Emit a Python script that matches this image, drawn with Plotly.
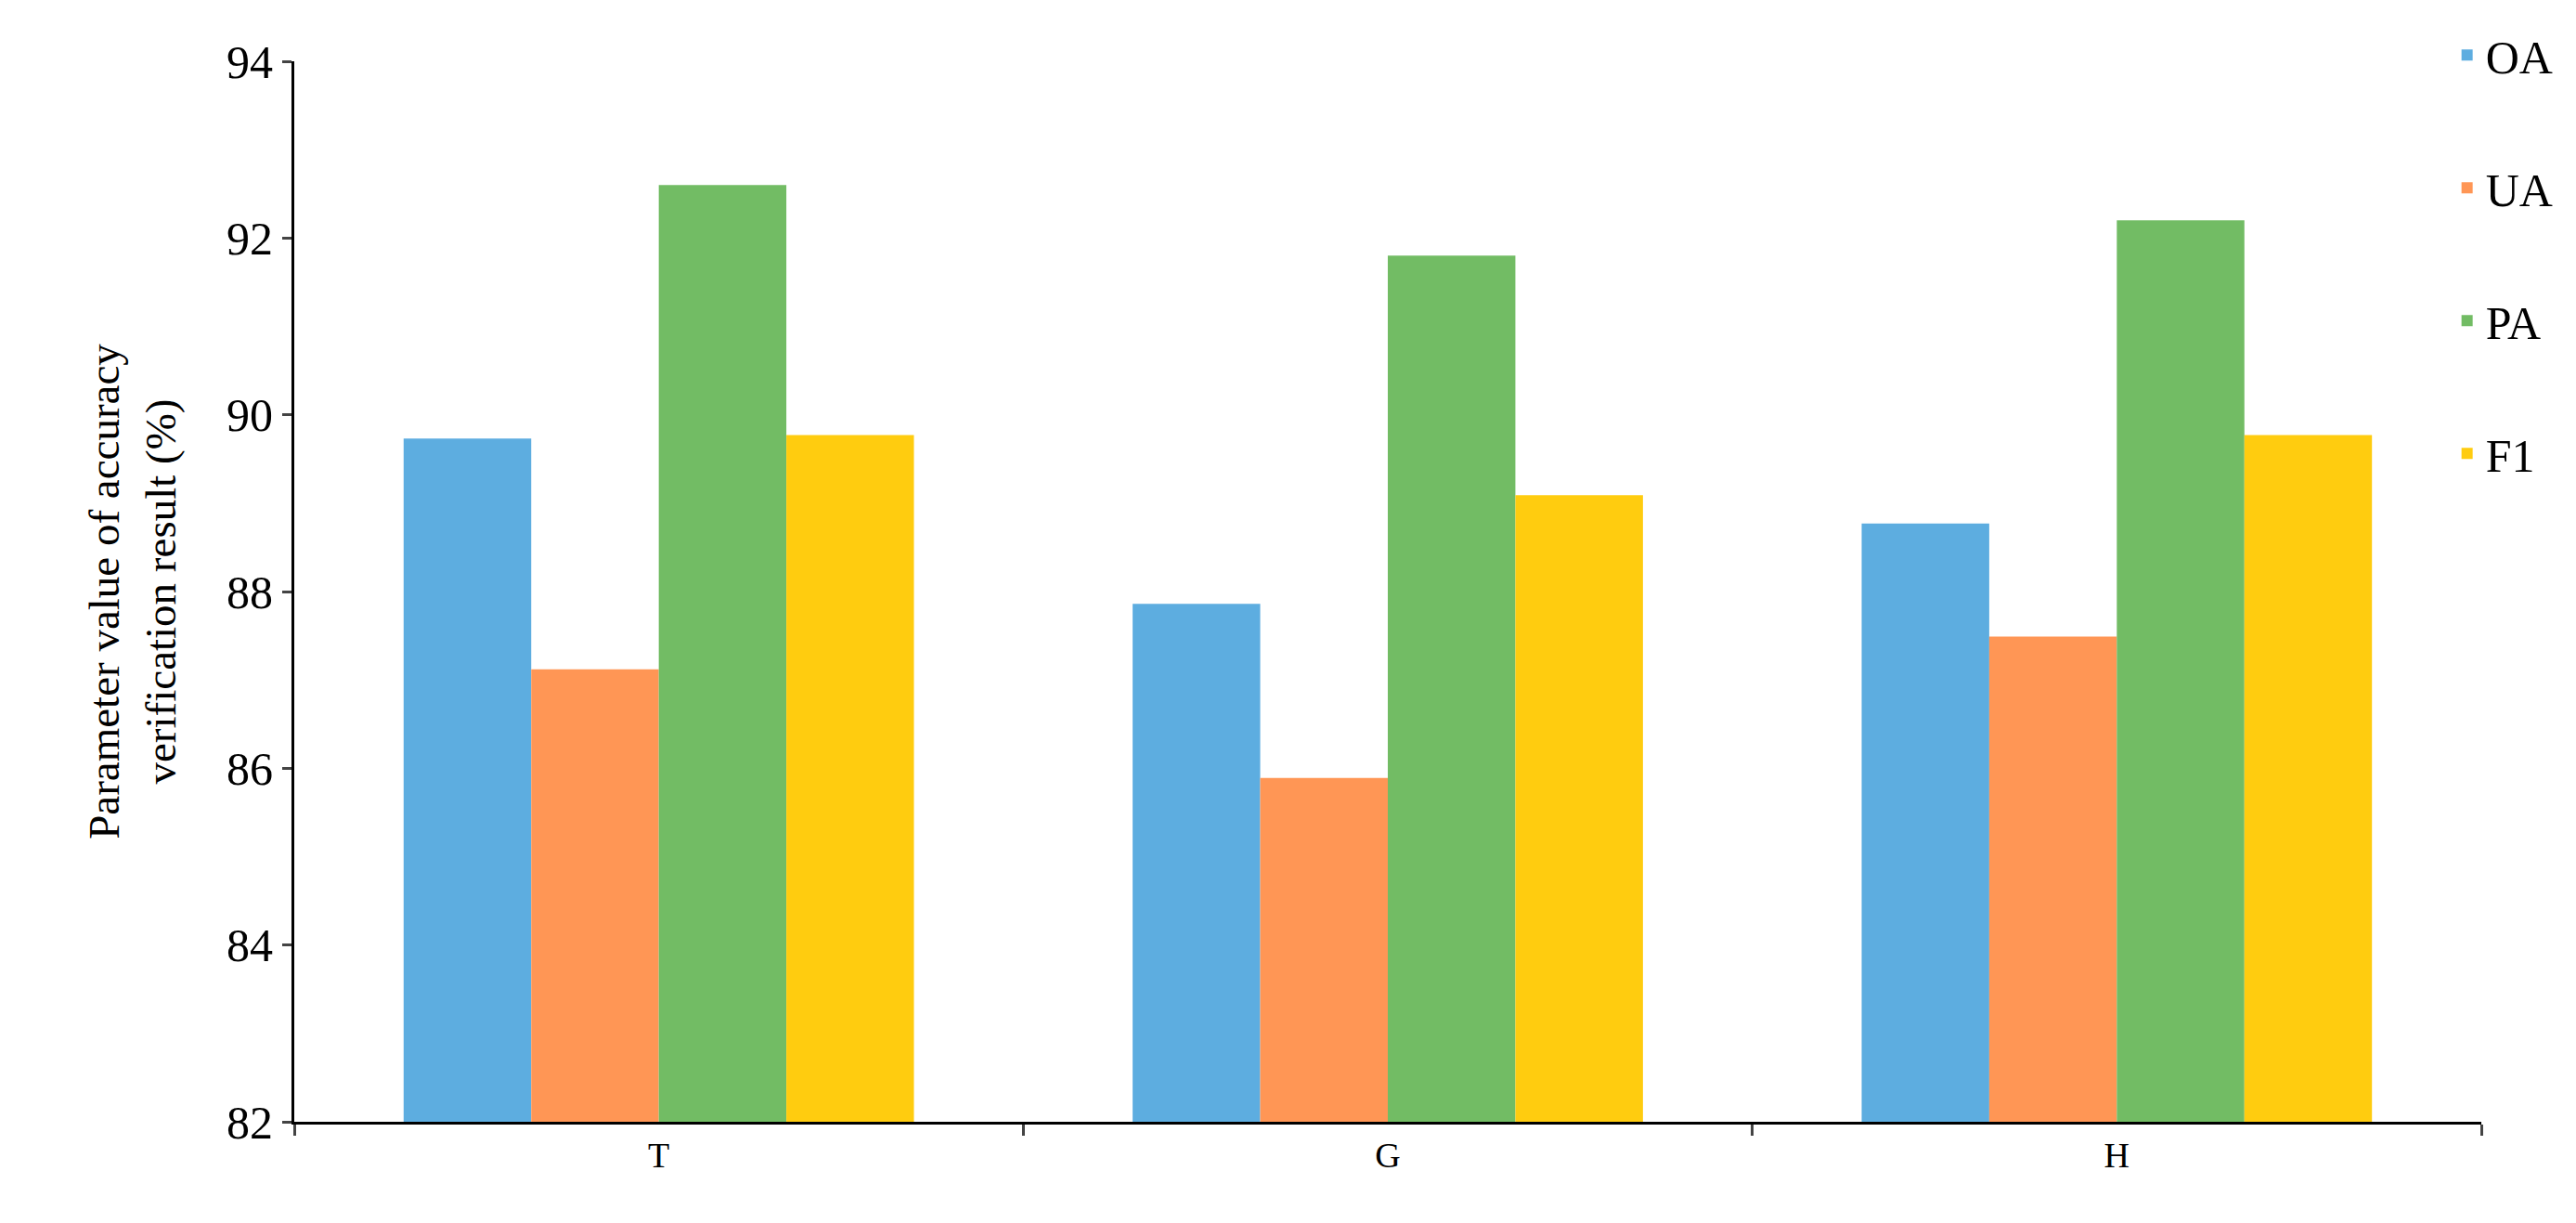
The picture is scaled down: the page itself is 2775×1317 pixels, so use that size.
import plotly.graph_objects as go

categories = ["T", "G", "H"]
series_names = ["OA", "UA", "PA", "F1"]
oa = [89.73, 87.86, 88.77]
ua = [87.12, 85.89, 87.49]
pa = [92.6, 91.8, 92.2]
f1 = [89.77, 89.09, 89.77]
colors = ["#5DADE0", "#FF9655", "#72BC64", "#FFCC0F"]

fig = go.Figure()
for name, vals, c in zip(series_names, [oa, ua, pa, f1], colors):
    fig.add_trace(go.Bar(x=categories, y=vals, name=name, marker_color=c,
                         marker_line_width=0, legendgroup=name))

font = "Liberation Serif, Times New Roman, serif"
fig.update_layout(
    width=2775, height=1317,
    plot_bgcolor="white", paper_bgcolor="white",
    margin=dict(l=309, r=110, t=53, b=117),
    barmode="group", bargap=0.3, bargroupgap=0,
    font=dict(family=font, color="black"),
    legend=dict(x=0.985, y=1.04, xanchor="left", yanchor="top",
                font=dict(size=50, family=font), tracegroupgap=75,
                itemwidth=30, bgcolor="rgba(0,0,0,0)"),
)
fig.update_yaxes(range=[82, 94], dtick=2, showgrid=False, zeroline=False,
                 showline=True, linecolor="black", linewidth=3,
                 ticks="outside", ticklen=10, tickwidth=3,
                 tickfont=dict(size=50),
                 title=dict(text="Parameter value of accuracy<br>verification result (%)",
                            font=dict(size=47), standoff=40))
fig.update_xaxes(showline=True, linecolor="black", linewidth=3, showgrid=False,
                 ticks="outside", tickson="boundaries", ticklen=12, tickwidth=3,
                 tickfont=dict(size=38))
fig.write_html("out.html")
